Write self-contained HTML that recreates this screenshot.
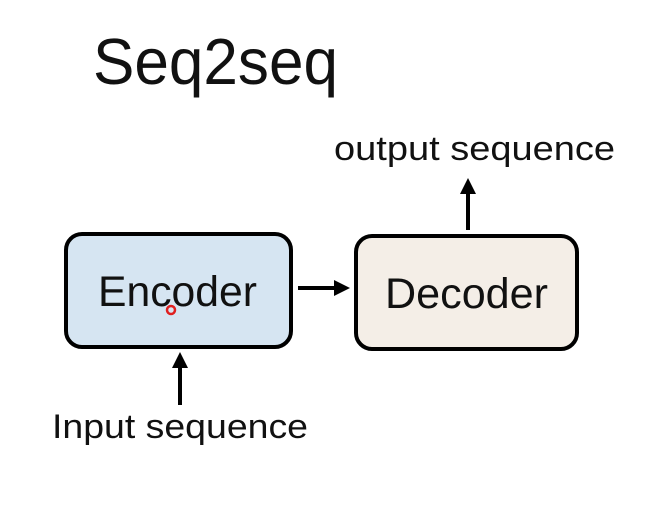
<!DOCTYPE html>
<html><head><meta charset="utf-8"><style>
html,body{margin:0;padding:0;background:#fff;width:669px;height:511px;overflow:hidden}
svg{display:block}
text{font-family:"Liberation Sans",sans-serif;fill:#111}
</style></head><body>
<svg width="669" height="511" viewBox="0 0 669 511" xmlns="http://www.w3.org/2000/svg">
<rect width="669" height="511" fill="#fff"/>
<text x="93" y="84" font-size="65" textLength="245" lengthAdjust="spacingAndGlyphs">Seq2seq</text>
<text x="334" y="160" font-size="34" textLength="281" lengthAdjust="spacingAndGlyphs">output sequence</text>
<line x1="468" y1="230" x2="468" y2="192" stroke="#000" stroke-width="4"/>
<polygon points="468,178 460,194 476,194" fill="#000"/>
<rect x="66" y="234" width="225" height="113" rx="16" fill="#d6e5f2" stroke="#000" stroke-width="4"/>
<text x="98" y="306" font-size="43" textLength="159" lengthAdjust="spacingAndGlyphs">Encoder</text>
<rect x="356" y="236" width="221" height="113" rx="16" fill="#f4eee7" stroke="#000" stroke-width="4"/>
<text x="385" y="308" font-size="43" textLength="163" lengthAdjust="spacingAndGlyphs">Decoder</text>
<line x1="298" y1="288" x2="336" y2="288" stroke="#000" stroke-width="4"/>
<polygon points="350,288 334,280 334,296" fill="#000"/>
<circle cx="171" cy="310" r="4" fill="none" stroke="#e02020" stroke-width="2.5"/>
<line x1="180" y1="405" x2="180" y2="367" stroke="#000" stroke-width="4"/>
<polygon points="180,352 172,368 188,368" fill="#000"/>
<text x="52" y="438" font-size="34" textLength="256" lengthAdjust="spacingAndGlyphs">Input sequence</text>
</svg>
</body></html>
